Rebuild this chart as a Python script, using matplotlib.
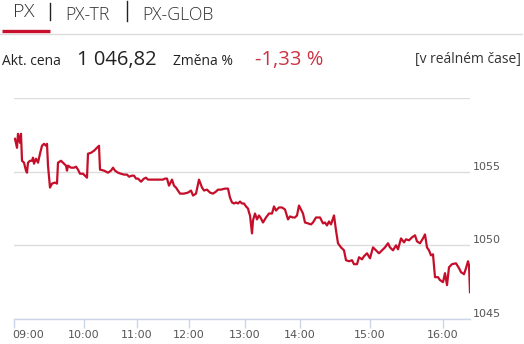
import matplotlib
matplotlib.use("Agg")
import matplotlib.pyplot as plt
from matplotlib.transforms import ScaledTranslation
from matplotlib.lines import Line2D

# ---- data ----
sample_idx = [1, 3, 4, 6, 7, 8, 10, 12, 13, 14, 16, 18, 19, 20, 22, 24, 26, 28, 30, 32,
              33, 34, 36, 38, 41, 43, 44, 47, 50, 52, 53, 54, 57, 60, 62, 64, 66, 69, 71, 73,
              74, 77, 80, 83, 85, 86, 90, 94, 97, 99, 101, 104, 107, 110, 113, 115, 118, 120, 122, 124,
              127, 130, 132, 134, 141, 149, 151, 153, 155, 158, 160, 162, 164, 166, 170, 174, 177, 179, 182, 185,
              188, 190, 193, 196, 199, 202, 204, 207, 211, 214, 216, 218, 220, 222, 224, 226, 228, 230, 232, 234,
              235, 236, 238, 239, 241, 243, 245, 247, 249, 252, 255, 258, 260, 262, 265, 268, 271, 274, 276, 279,
              281, 283, 285, 287, 289, 291, 294, 297, 299, 302, 306, 309, 311, 313, 315, 317, 320, 322, 324, 327,
              330, 332, 335, 338, 340, 343, 345, 348, 350, 353, 356, 359, 362, 365, 368, 371, 374, 376, 379, 382,
              384, 387, 390, 392, 395, 398, 401, 403, 406, 409, 411, 413, 415, 417, 419, 421, 424, 426, 429, 431,
              433, 435, 438, 442, 445, 447, 450, 452, 454, 455, 456]
px_values = [1057.23, 1056.62, 1057.57, 1056.96, 1057.57, 1055.74, 1055.61, 1055.07, 1054.93, 1055.61,
             1055.74, 1055.74, 1055.95, 1055.54, 1055.88, 1055.61, 1056.22, 1056.76, 1056.89, 1056.76,
             1056.89, 1055.41, 1053.92, 1054.19, 1054.26, 1054.19, 1055.61, 1055.74, 1055.54, 1055.41,
             1055.07, 1055.41, 1055.27, 1055.27, 1055.34, 1055.14, 1054.86, 1054.86, 1054.73, 1054.59,
             1056.22, 1056.28, 1056.42, 1056.62, 1056.76, 1055.14, 1055.07, 1054.93, 1055.07, 1055.27,
             1055.07, 1054.93, 1054.86, 1054.80, 1054.80, 1054.66, 1054.73, 1054.73, 1054.53, 1054.53,
             1054.32, 1054.53, 1054.59, 1054.46, 1054.46, 1054.46, 1054.53, 1054.53, 1054.05, 1054.46,
             1054.05, 1053.92, 1053.72, 1053.51, 1053.51, 1053.58, 1053.72, 1053.38, 1053.51, 1054.46,
             1053.92, 1053.72, 1053.78, 1053.58, 1053.51, 1053.65, 1053.78, 1053.78, 1053.85, 1053.85,
             1053.24, 1052.91, 1052.84, 1052.91, 1052.84, 1052.97, 1052.84, 1052.84, 1052.64, 1052.50,
             1052.23, 1052.03, 1050.81, 1051.69, 1052.16, 1051.76, 1052.03, 1051.82, 1051.55, 1051.89,
             1052.16, 1052.16, 1052.64, 1052.36, 1052.57, 1052.57, 1052.43, 1051.76, 1051.96, 1051.89,
             1051.89, 1052.03, 1052.70, 1052.43, 1052.16, 1051.55, 1051.49, 1051.42, 1051.55, 1051.89,
             1051.89, 1051.49, 1051.55, 1051.35, 1051.62, 1051.42, 1052.03, 1051.01, 1050.14, 1049.86,
             1049.66, 1048.99, 1048.92, 1048.99, 1048.72, 1048.72, 1049.19, 1049.05, 1049.26, 1049.46,
             1049.12, 1049.86, 1049.66, 1049.46, 1049.66, 1049.86, 1050.14, 1049.86, 1049.66, 1050.00,
             1049.73, 1050.47, 1050.20, 1050.41, 1050.34, 1050.54, 1050.68, 1050.27, 1050.14, 1050.47,
             1050.74, 1049.86, 1049.66, 1049.32, 1049.39, 1047.84, 1047.84, 1047.64, 1047.50, 1048.11,
             1047.30, 1048.51, 1048.72, 1048.78, 1048.45, 1048.18, 1048.04, 1048.45, 1048.92, 1048.65,
             1046.82]
time_tick_idx = [0, 70, 123, 175, 231, 286, 356, 429]
time_tick_labels = ["09:00", "10:00", "11:00", "12:00", "13:00", "14:00", "15:00", "16:00"]
y_ticks = [1045, 1050, 1055, 1060]
y_tick_labels = ["1045", "1050", "1055", ""]
tabs = ["PX", "PX-TR", "PX-GLOB"]
price_label = "Akt. cena"
price_text = "1 046,82"
change_label = "Změna %"
change_text = "-1,33 %"
realtime_text = "[v reálném čase]"

# ---- figure ----
W, H = 524, 344
fig = plt.figure(figsize=(W / 100, H / 100), dpi=100)
FAM = ["Open Sans", "DejaVu Sans"]


def fx(x):
    return x / W


def fy(y):
    return 1 - y / H


# header tabs
fig.text(fx(13), fy(17), tabs[0], fontsize=14, color="#333333", family=FAM,
         fontweight="light", va="baseline", ha="left")
fig.text(fx(65), fy(20), tabs[1], fontsize=12.8, color="#333333", family=FAM,
         fontweight="light", va="baseline", ha="left")
fig.text(fx(142), fy(20), tabs[2], fontsize=12.8, color="#333333", family=FAM,
         fontweight="light", va="baseline", ha="left")
fig.add_artist(Line2D([fx(50), fx(50)], [fy(3), fy(20)], color="#222222", lw=1))
fig.add_artist(Line2D([fx(127), fx(127)], [fy(1), fy(21)], color="#222222", lw=1))
fig.add_artist(Line2D([fx(0), fx(522)], [fy(33.5), fy(33.5)], color="#dddddd", lw=1))
fig.add_artist(Line2D([fx(2), fx(50)], [fy(31), fy(31)], color="#c8102e", lw=2.4,
                      solid_capstyle="butt"))

# info row
fig.text(fx(2), fy(65), price_label, fontsize=10, color="#222222", family=FAM, va="baseline")
fig.text(fx(77), fy(65), price_text, fontsize=14.5, color="#222222", family=FAM, va="baseline")
fig.text(fx(173), fy(65), change_label, fontsize=10, color="#222222", family=FAM, va="baseline")
fig.text(fx(255), fy(65), change_text, fontsize=14.5, color="#cc3344", family=FAM, va="baseline")
fig.text(fx(521), fy(63.5), realtime_text, fontsize=10, color="#333333", family=FAM,
         va="baseline", ha="right")

# chart
ax = fig.add_axes([fx(14), 25 / H, 456 / W, 221 / H])
ax.plot(sample_idx, px_values, color="#c50f2a", lw=1.6, solid_joinstyle="round", zorder=3)
ax.set_xlim(0, 456)
ax.set_ylim(1045, 1060)

for s in ["top", "left", "right"]:
    ax.spines[s].set_visible(False)
ax.spines["bottom"].set_color("#ccd6eb")
ax.spines["bottom"].set_linewidth(1)
ax.spines["bottom"].set_zorder(2)

ax.set_yticks(y_ticks)
ax.set_yticklabels(y_tick_labels)
ax.yaxis.tick_right()
ax.tick_params(axis="y", length=0, pad=2, labelsize=8, labelcolor="#555555")
ax.grid(axis="y", color="#dddddd", lw=1)
ax.set_axisbelow(True)
off = ScaledTranslation(0, 6 / 100, fig.dpi_scale_trans)
for lab in ax.get_yticklabels():
    lab.set_transform(lab.get_transform() + off)
    lab.set_family(["DejaVu Sans"])

ax.set_xticks(time_tick_idx)
ax.set_xticklabels(time_tick_labels)
ax.tick_params(axis="x", length=6.5, width=1, color="#ccd6eb", pad=1.5,
               labelsize=8, labelcolor="#555555", direction="out")
xl = ax.get_xticklabels()
xl[0].set_ha("left")
xl[0].set_transform(xl[0].get_transform() + ScaledTranslation(-1.5 / 100, 0, fig.dpi_scale_trans))

fig.savefig("out.png", dpi=100)
